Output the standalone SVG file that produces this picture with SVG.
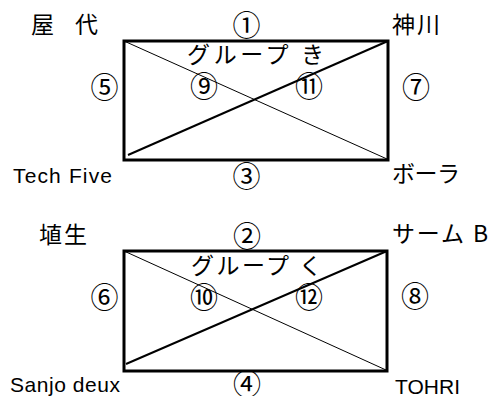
<svg xmlns="http://www.w3.org/2000/svg" width="491" height="396" viewBox="0 0 491 396">
<style>
.jp{font-family:"Noto Sans CJK JP","Liberation Sans",sans-serif;font-size:23px;fill:#000}
.lat{font-family:"Liberation Sans","Noto Sans CJK JP",sans-serif;font-size:21px;fill:#000}
.num{font-family:"Noto Sans CJK JP",sans-serif;font-size:28px;fill:#000;text-anchor:middle;dominant-baseline:central}
.box{fill:none;stroke:#000;stroke-width:3}
.thin{stroke:#000;stroke-width:1}
.thick{stroke:#000;stroke-width:2}
</style>
<rect width="491" height="396" fill="#fff"/>
<g id="connectors">
  <rect class="box" x="124" y="41" width="264" height="119"/>
  <line class="thin" x1="124" y1="41" x2="387" y2="159"/>
  <line class="thick" x1="128" y1="155" x2="388" y2="41"/>
  <rect class="box" x="124" y="251" width="263" height="120"/>
  <line class="thin" x1="124" y1="251" x2="386" y2="370"/>
  <line class="thick" x1="126" y1="364" x2="387" y2="251"/>
  <text class="num" x="246.5" y="24">①</text>
  <text class="num" x="246.5" y="175">③</text>
  <text class="num" x="104.5" y="86">⑤</text>
  <text class="num" x="416" y="86">⑦</text>
  <text class="num" x="204" y="85">⑨</text>
  <text class="num" x="309" y="85">⑪</text>
  <text class="num" x="247" y="235">②</text>
  <text class="num" x="247" y="383">④</text>
  <text class="num" x="104.5" y="296">⑥</text>
  <text class="num" x="415" y="295">⑧</text>
  <text class="num" x="204" y="296">⑩</text>
  <text class="num" x="309" y="296">⑫</text>
</g>
<g id="group-ki"><text class="jp" x="187" y="63" textLength="137">グループ き</text></g>
<g id="group-ku"><text class="jp" x="191" y="274" textLength="131">グループ く</text></g>
<g id="yashiro"><text class="jp" x="31" y="33" textLength="67">屋 代</text></g>
<g id="kamikawa"><text class="jp" x="392" y="33" textLength="48">神川</text></g>
<g id="techfive"><text class="lat" x="13" y="183" textLength="99">Tech Five</text></g>
<g id="bora"><text class="jp" x="392" y="182" textLength="68">ボーラ</text></g>
<g id="haniyu"><text class="jp" x="39" y="243" textLength="48">埴生</text></g>
<g id="samu-b"><text class="jp" x="392" y="242" textLength="96">サーム B</text></g>
<g id="sanjo-deux"><text class="lat" x="10" y="392" textLength="110">Sanjo deux</text></g>
<g id="tohri"><text class="lat" x="395" y="394" textLength="65">TOHRI</text></g>
</svg>
